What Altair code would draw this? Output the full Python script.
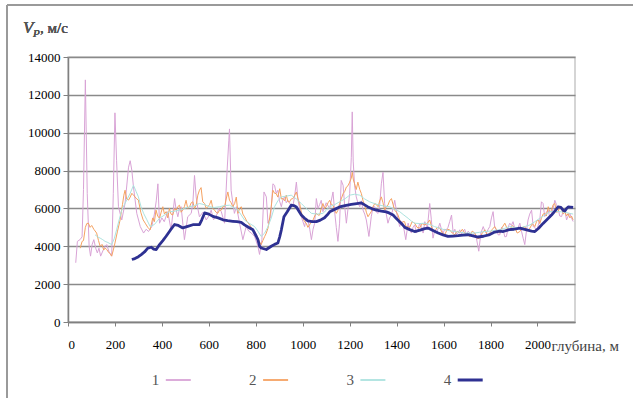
import altair as alt
import pandas as pd

# ---- data ----
series_names = ["1", "2", "3", "4"]
series_colors = ["#d9a3d6", "#f5a262", "#ace3df", "#2e3192"]
series_widths = [1, 1, 1, 2.8]

x_ticks = [0, 200, 400, 600, 800, 1000, 1200, 1400, 1600, 1800, 2000]
y_ticks = [0, 2000, 4000, 6000, 8000, 10000, 12000, 14000]

depth1 = [33, 40, 51, 60, 66, 74, 82, 90, 96, 103, 110, 118, 125, 132, 139, 150, 158, 165, 175, 186,
          193, 200, 207, 215, 229, 243, 258, 265, 272, 279, 293, 308, 322, 333, 343, 357, 368, 376, 383, 390,
          400, 410, 425, 439, 454, 461, 468, 475, 482, 496, 510, 525, 532, 539, 546, 553, 560, 575, 589, 600,
          610, 620, 631, 642, 653, 667, 677, 685, 688, 695, 702, 709, 718, 731, 745, 759, 770, 781, 795, 809,
          816, 826, 835, 845, 852, 863, 873, 880, 887, 894, 901, 909, 916, 923, 930, 937, 948, 958, 966, 973,
          980, 987, 994, 1001, 1008, 1015, 1022, 1030, 1037, 1044, 1051, 1058, 1065, 1072, 1079, 1086, 1100, 1115, 1129, 1136,
          1143, 1150, 1157, 1164, 1172, 1179, 1186, 1193, 1200, 1207, 1211, 1215, 1221, 1228, 1235, 1243, 1250, 1257, 1264, 1271,
          1282, 1292, 1300, 1307, 1314, 1321, 1328, 1335, 1342, 1349, 1356, 1363, 1370, 1378, 1385, 1392, 1402, 1413, 1420, 1427,
          1439, 1449, 1456, 1463, 1470, 1477, 1484, 1491, 1498, 1506, 1513, 1520, 1531, 1541, 1548, 1555, 1562, 1570, 1577, 1584,
          1591, 1598, 1605, 1612, 1619, 1626, 1634, 1641, 1648, 1655, 1662, 1669, 1676, 1683, 1690, 1697, 1705, 1712, 1719, 1726,
          1733, 1740, 1750, 1759, 1769, 1776, 1783, 1790, 1797, 1804, 1811, 1818, 1825, 1833, 1840, 1847, 1854, 1861, 1868, 1875,
          1882, 1889, 1896, 1904, 1911, 1918, 1925, 1932, 1939, 1946, 1953, 1960, 1967, 1975, 1982, 1989, 1996, 2003, 2010, 2017,
          2024, 2031, 2038, 2046, 2053, 2060, 2067, 2074, 2081, 2088, 2095, 2103, 2110, 2117, 2124, 2131, 2138, 2145, 2152]
vp1 = [3130, 4260, 4350, 4500, 7000, 12790, 6780, 4000, 3480, 4100, 4350, 3900, 3650, 3900, 3480, 3800, 4000, 4090, 3700, 3480,
       6780, 11050, 8520, 6090, 5390, 6260, 8180, 8520, 8000, 7130, 5740, 5040, 4700, 4900, 4780, 5040, 5700, 6400, 7300, 5220,
       5500, 5300, 5830, 4870, 6520, 5900, 5560, 6000, 6090, 4350, 5560, 5740, 6300, 7740, 6610, 6000, 5560, 5800, 5390, 5600,
       5910, 5400, 5560, 6000, 5830, 5220, 7830, 9570, 10200, 6960, 6300, 5740, 6090, 5220, 4350, 5040, 4800, 4700, 4520, 4000,
       3570, 4350, 6870, 6610, 5220, 5560, 7300, 7220, 6800, 6960, 6400, 6090, 6500, 6610, 6300, 6430, 6200, 6090, 6700, 7390,
       6430, 6000, 5560, 5300, 5040, 5500, 5390, 4900, 4350, 4900, 5220, 6520, 6000, 6200, 6430, 5830, 6300, 6000, 6870, 5830,
       5000, 4260, 5220, 7480, 7220, 6090, 5220, 6000, 6780, 8700, 11100, 8500, 7200, 6610, 6300, 6090, 6400, 5910, 5700, 5390,
       4520, 5560, 6100, 6090, 5800, 5740, 6200, 7300, 7910, 6260, 5700, 5220, 5500, 5650, 6000, 6430, 5650, 5040, 5300, 5220,
       4350, 5220, 4900, 4700, 5000, 5130, 4700, 4870, 5200, 5040, 4700, 5300, 4960, 6260, 5400, 4430, 4800, 4700, 4950, 5220,
       4900, 4700, 4900, 4870, 5000, 5300, 5650, 4700, 4900, 4610, 4700, 4870, 4650, 4780, 4900, 4610, 4800, 4700, 4500, 4610,
       4700, 4430, 3740, 4700, 5040, 4800, 4700, 4900, 5040, 5500, 5830, 5000, 4870, 4600, 4610, 5000, 4870, 4500, 4520, 5000,
       5220, 5100, 5300, 4900, 4870, 5000, 5220, 4800, 4430, 4090, 4800, 5390, 5700, 5910, 5040, 5000, 4780, 5100, 5390, 6350,
       6260, 5570, 5800, 5910, 5500, 5740, 6000, 6430, 6200, 6000, 5600, 5570, 5900, 5900, 5390, 5600, 5740, 5500, 5310]

depth2 = [52, 60, 66, 74, 80, 87, 94, 101, 110, 122, 130, 137, 145, 152, 158, 165, 172, 180, 186, 193,
          200, 211, 222, 232, 238, 243, 250, 258, 265, 272, 279, 286, 293, 300, 310, 320, 329, 340, 350, 361,
          368, 375, 382, 390, 397, 404, 411, 418, 425, 432, 439, 446, 454, 461, 468, 475, 482, 489, 496, 503,
          510, 518, 525, 532, 539, 546, 553, 560, 567, 574, 582, 589, 596, 603, 610, 617, 624, 631, 638, 645,
          653, 660, 667, 674, 681, 688, 695, 702, 710, 717, 724, 731, 738, 745, 752, 763, 774, 785, 795, 803,
          812, 818, 823, 830, 838, 845, 852, 859, 866, 873, 880, 887, 894, 902, 909, 916, 923, 930, 937, 944,
          951, 958, 966, 973, 980, 987, 994, 1001, 1008, 1015, 1022, 1029, 1037, 1044, 1051, 1058, 1065, 1072, 1079, 1086,
          1093, 1100, 1108, 1115, 1122, 1129, 1136, 1143, 1150, 1157, 1164, 1172, 1179, 1186, 1193, 1200, 1207, 1211, 1216, 1221,
          1228, 1235, 1243, 1250, 1257, 1264, 1271, 1278, 1285, 1292, 1300, 1307, 1314, 1321, 1328, 1335, 1342, 1349, 1356, 1363,
          1370, 1378, 1385, 1392, 1399, 1406, 1413, 1420, 1427, 1434, 1441, 1449, 1456, 1466, 1477, 1487, 1498, 1509, 1520, 1530,
          1541, 1552, 1562, 1573, 1584, 1595, 1605, 1616, 1626, 1637, 1648, 1658, 1669, 1680, 1690, 1701, 1712, 1722, 1733, 1744,
          1754, 1765, 1776, 1786, 1797, 1808, 1818, 1829, 1840, 1850, 1861, 1872, 1882, 1893, 1904, 1914, 1925, 1936, 1946, 1957,
          1968, 1978, 1989, 1996, 2003, 2010, 2017, 2024, 2031, 2038, 2046, 2053, 2060, 2067, 2074, 2081, 2088, 2095, 2103, 2110,
          2117, 2124, 2131, 2138, 2145, 2152]
vp2 = [3900, 4260, 4300, 5000, 5200, 5220, 5000, 5100, 4900, 4700, 4300, 4000, 4100, 3800, 3900, 3830, 3700, 3600, 3480, 3800,
       4170, 4800, 5390, 6200, 6700, 6960, 6500, 6440, 6600, 6800, 6700, 6600, 6500, 6440, 5800, 5400, 5220, 5000, 4870, 5500,
       5300, 5910, 5600, 5480, 5800, 6090, 5700, 5830, 5500, 6000, 5700, 5650, 6000, 5910, 6100, 6170, 5800, 5910, 6100, 6430,
       6000, 6090, 6300, 6350, 6000, 6170, 6700, 6960, 7100, 6350, 6260, 6000, 6090, 6200, 6430, 6000, 5910, 5800, 5740, 5900,
       5910, 6100, 6090, 6500, 6870, 6430, 6300, 6090, 6260, 6600, 5740, 6000, 6090, 5700, 5560, 5300, 5130, 4900, 4780, 4600,
       4350, 4200, 4090, 4300, 4520, 4700, 4960, 5500, 6090, 6960, 6800, 6780, 6600, 7040, 6500, 6520, 6400, 6700, 6350, 6350,
       6500, 6520, 6700, 6870, 6500, 6260, 5800, 5480, 5300, 5220, 5000, 5130, 5300, 5390, 5600, 5740, 5650, 5650, 6000, 6260,
       6000, 6090, 6300, 6430, 6200, 6170, 5900, 5740, 5900, 6260, 6500, 6780, 6900, 7130, 7200, 7390, 7600, 7910, 7500, 7300,
       7000, 7390, 7000, 6780, 6400, 6170, 5800, 5560, 5700, 5830, 6100, 6260, 6200, 6090, 6400, 6610, 6300, 5910, 6100, 6170,
       6400, 6520, 6200, 5910, 5800, 5650, 5400, 5220, 5300, 5300, 5000, 5040, 5000, 5300, 5220, 5000, 4960, 5200, 5130, 5200,
       5390, 4900, 4780, 5000, 4960, 4700, 4610, 4900, 4870, 4700, 4610, 4800, 4700, 4900, 4700, 4600, 4520, 4800, 4700, 4400,
       4430, 4700, 4870, 4600, 4700, 4900, 5040, 4800, 4700, 5000, 5220, 4900, 4870, 5100, 4960, 4700, 4780, 5000, 5040, 4800,
       4960, 5200, 5040, 5300, 5390, 5200, 5480, 5700, 5740, 5600, 6090, 5800, 5910, 6200, 6260, 5800, 5830, 6100, 6000, 5700,
       5830, 5600, 5740, 5500, 5600, 5400]

depth3 = [115, 126, 137, 148, 158, 170, 186, 197, 207, 218, 229, 240, 250, 265, 279, 290, 300, 311, 322, 336,
          350, 368, 390, 411, 432, 454, 475, 496, 518, 539, 560, 581, 603, 624, 645, 667, 688, 706, 724, 738,
          752, 774, 795, 809, 823, 838, 852, 866, 880, 894, 909, 930, 951, 973, 994, 1015, 1037, 1061, 1086, 1100,
          1115, 1136, 1157, 1179, 1200, 1221, 1243, 1264, 1285, 1307, 1328, 1349, 1370, 1392, 1413, 1431, 1449, 1463, 1477, 1498,
          1520, 1541, 1562, 1584, 1605, 1626, 1648, 1669, 1690, 1712, 1733, 1754, 1776, 1797, 1818, 1840, 1861, 1882, 1904, 1925,
          1946, 1968, 1989, 2010, 2031, 2053, 2074, 2095, 2117, 2138, 2152]
vp3 = [4610, 4500, 4430, 4350, 4260, 4200, 4090, 4400, 4870, 5400, 5910, 6200, 6440, 6800, 7220, 6900, 6610, 6100, 5740, 5400,
       5040, 5150, 5480, 5650, 5830, 5850, 5910, 6000, 6090, 6150, 6260, 6200, 6090, 6050, 6090, 6150, 6170, 6050, 5910, 5650,
       5390, 5200, 5040, 4800, 4520, 4700, 5040, 5500, 6090, 6400, 6610, 6650, 6700, 6500, 6260, 6000, 5740, 5700, 5740, 5900,
       6090, 6200, 6350, 6500, 6700, 6750, 6700, 6500, 6350, 6250, 6170, 6120, 6090, 5950, 5830, 5650, 5480, 5330, 5220, 5200,
       5220, 5150, 5040, 4950, 4870, 4820, 4780, 4740, 4700, 4700, 4700, 4740, 4780, 4800, 4840, 4870, 4950, 5040, 5000, 4960,
       5040, 5130, 5300, 5480, 5650, 5830, 5850, 5830, 5800, 5740, 5700]

depth4 = [272, 285, 300, 312, 326, 340, 355, 365, 376, 390, 404, 418, 436, 454, 470, 489, 510, 532, 560, 570,
          582, 600, 617, 640, 660, 680, 702, 720, 738, 752, 774, 788, 802, 809, 816, 823, 845, 866, 880, 894,
          902, 909, 920, 934, 951, 962, 973, 984, 994, 1008, 1022, 1040, 1058, 1075, 1093, 1104, 1115, 1136, 1157, 1180,
          1207, 1230, 1250, 1262, 1278, 1296, 1314, 1335, 1356, 1370, 1385, 1400, 1420, 1435, 1456, 1477, 1500, 1520, 1534, 1555,
          1577, 1598, 1619, 1640, 1662, 1683, 1704, 1725, 1747, 1770, 1797, 1818, 1840, 1854, 1880, 1900, 1925, 1950, 1975, 1989,
          2005, 2024, 2042, 2060, 2075, 2088, 2100, 2110, 2117, 2124, 2131, 2140, 2152]
vp4 = [3300, 3350, 3450, 3560, 3700, 3900, 3950, 3850, 3830, 4090, 4300, 4530, 4850, 5150, 5100, 4970, 5050, 5140, 5140, 5400,
       5760, 5700, 5580, 5500, 5400, 5350, 5320, 5300, 5260, 5130, 4970, 4870, 4530, 4350, 4000, 3910, 3830, 4000, 4100, 4170,
       4500, 4870, 5560, 5820, 6170, 6150, 6080, 5850, 5650, 5480, 5340, 5300, 5300, 5380, 5510, 5650, 5820, 5950, 6080, 6150,
       6210, 6250, 6290, 6200, 6080, 5980, 5910, 5860, 5820, 5750, 5650, 5450, 5210, 5000, 4880, 4780, 4850, 4930, 4960, 4830,
       4700, 4600, 4520, 4540, 4560, 4590, 4610, 4550, 4490, 4530, 4620, 4750, 4800, 4780, 4880, 4900, 4960, 4880, 4800, 4780,
       4950, 5210, 5430, 5650, 5870, 6080, 6050, 5900, 5870, 6000, 6080, 6070, 6050]

# ---- build tables ----
frames = []
for name, d, v in zip(series_names, [depth1, depth2, depth3, depth4], [vp1, vp2, vp3, vp4]):
    frames.append(pd.DataFrame({"depth": d, "vp": v, "series": name}))
df = pd.concat(frames, ignore_index=True)
legend_df = pd.DataFrame({"series": series_names})

SERIF = "Liberation Serif"
W, H = 507, 265

color_scale = alt.Scale(domain=series_names, range=series_colors)

x_enc = alt.X("depth:Q",
              scale=alt.Scale(domain=[0, 2160], nice=False),
              axis=alt.Axis(values=x_ticks, format="d", grid=False,
                            title="глубина, м", titleAngle=0, titleX=483, titleY=23,
                            titleAlign="left", titleBaseline="middle",
                            titleFont=SERIF, titleFontSize=15, titleFontWeight="normal",
                            titleColor="#444444",
                            labelFont=SERIF, labelFontSize=13, labelColor="#000000",
                            labelPadding=12, tickSize=4, tickColor="#808080",
                            domainColor="#808080", domainWidth=1.5))
y_enc = alt.Y("vp:Q",
              scale=alt.Scale(domain=[0, 14000], nice=False),
              axis=alt.Axis(values=y_ticks, format="d", grid=True,
                            gridColor="#8a8a8a", gridWidth=1.6, title=None,
                            labelFont=SERIF, labelFontSize=13, labelColor="#000000",
                            labelPadding=3, tickSize=5, tickColor="#808080",
                            domainColor="#808080", domainWidth=1.5))

line_layers = []
for name, sw in zip(series_names, series_widths):
    line_layers.append(
        alt.Chart(df).transform_filter(alt.datum.series == name).mark_line(
            strokeJoin="round", clip=True, strokeWidth=sw
        ).encode(
            x=x_enc,
            y=y_enc,
            order="depth:Q",
            color=alt.Color("series:N", scale=color_scale, legend=None),
        )
    )
lines = alt.layer(*line_layers)

# legend: number, then a short line in the series colour
leg_x = alt.X("series:N", axis=None,
              scale=alt.Scale(domain=series_names, range=[110.3, 402.2], padding=0))
leg_sym = alt.Chart(legend_df).mark_point(shape="stroke", size=625, filled=False, opacity=1).encode(
    x=leg_x, y=alt.value(323),
    color=alt.Color("series:N", scale=color_scale, legend=None),
    strokeWidth=alt.condition(alt.datum.series == "4", alt.value(3), alt.value(1.8)),
)
leg_txt = alt.Chart(legend_df).mark_text(align="right", baseline="middle", dx=-19,
                                         font=SERIF, fontSize=15, color="#555555").encode(
    x=leg_x, y=alt.value(323), text="series:N")
legend_layer = alt.layer(leg_sym, leg_txt)

# Y title: V_P, м/с
tv = alt.Chart(legend_df).mark_text(text="V", font=SERIF, fontSize=17, fontStyle="italic",
                                    fontWeight="normal", align="left", baseline="alphabetic",
                                    color="#555555").encode(x=alt.value(-45), y=alt.value(-24))
tp = alt.Chart(legend_df).mark_text(text="P", font=SERIF, fontSize=11, fontStyle="italic",
                                    fontWeight="normal", align="left", baseline="alphabetic",
                                    color="#555555").encode(x=alt.value(-35), y=alt.value(-20))
tu = alt.Chart(legend_df).mark_text(text=", м/с", font=SERIF, fontSize=15, fontWeight="normal",
                                    align="left", baseline="alphabetic",
                                    color="#555555").encode(x=alt.value(-28), y=alt.value(-24))

# outer frame of the figure
frame_top = alt.Chart(legend_df).mark_rule(color="#9a9a9a", strokeWidth=1.5).encode(
    x=alt.value(-61), x2=alt.value(570), y=alt.value(-52))
frame_left = alt.Chart(legend_df).mark_rule(color="#9a9a9a", strokeWidth=1.5).encode(
    x=alt.value(-61), y=alt.value(-52), y2=alt.value(345))

chart = alt.layer(lines, legend_layer, tv, tp, tu, frame_top, frame_left).resolve_scale(
    x="independent"
).properties(
    width=W, height=H,
    autosize=alt.AutoSizeParams(type="none"),
    padding={"left": 68, "top": 57, "right": 58, "bottom": 76},
    background="white",
).configure(font=SERIF).configure_view(stroke="#c8c8c8", strokeWidth=1.5)

chart.save("out.html", embed_options={"renderer": "svg", "actions": False})
